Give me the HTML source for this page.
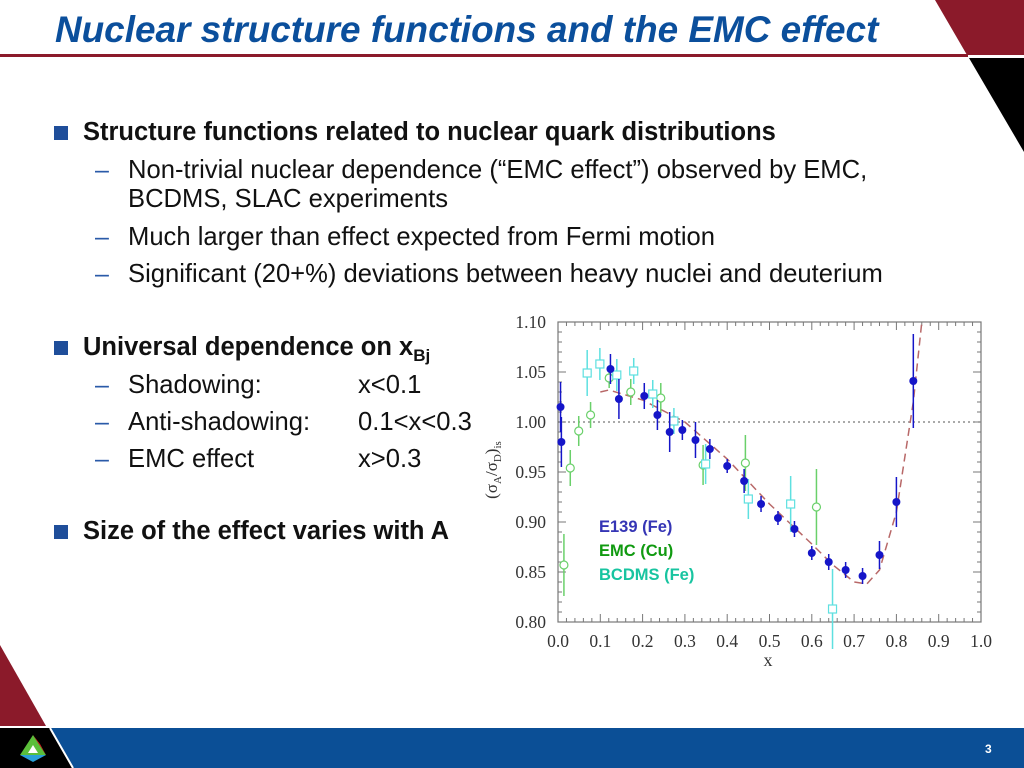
<!DOCTYPE html>
<html><head><meta charset="utf-8"><style>
body{margin:0;width:1024px;height:768px;overflow:hidden;background:#fff;font-family:"Liberation Sans",Arial,sans-serif;position:relative}
.t{position:absolute;white-space:nowrap;color:#111}
.b1{font-weight:bold;font-size:25.5px;left:83px}
.sq{position:absolute;left:54px;width:14px;height:14px;background:#1f4e9a}
.d{position:absolute;left:95px;color:#2a5aa8;font-size:25px}
.s{font-size:25.6px;left:128px}
</style></head><body>
<div class="t" style="left:55px;top:9px;font-size:36.9px;font-weight:bold;font-style:italic;color:#0b4f9c">Nuclear structure functions and the EMC effect</div>
<div style="position:absolute;left:0;top:54px;width:968px;height:3px;background:#8b1a2a"></div>
<svg style="position:absolute;left:0;top:0" width="1024" height="768">
<polygon points="935,0 1024,0 1024,55 967,55" fill="#8b1a2a"/>
<polygon points="969,58 1024,58 1024,152" fill="#000"/>
<polygon points="0,645 0,726 46,726" fill="#8b1a2a"/>
<rect x="0" y="728" width="1024" height="40" fill="#0b4f96"/>
<polygon points="0,728 50,728 73,768 0,768" fill="#000"/>
<line x1="50" y1="728" x2="73" y2="768" stroke="#fff" stroke-width="2"/>
<polygon points="33,735 20,755 46,755" fill="#5bbf3a"/>
<polygon points="33,735 46,755 40,744" fill="#e02020"/>
<polygon points="20,755 46,755 33,762" fill="#2aa0d8"/>
<polygon points="33,745 28,753 38,753" fill="#fff"/>
</svg>
<div class="t" style="left:985px;top:742px;color:#fff;font-size:12px;font-weight:bold">3</div>

<div class="sq" style="top:126px"></div>
<div class="t b1" style="top:118px">Structure functions related to nuclear quark distributions</div>
<div class="d" style="top:156px">–</div>
<div class="t s" style="top:156px">Non-trivial nuclear dependence (“EMC effect”) observed by EMC,</div>
<div class="t s" style="top:185px">BCDMS, SLAC experiments</div>
<div class="d" style="top:223px">–</div>
<div class="t s" style="top:223px">Much larger than effect expected from Fermi motion</div>
<div class="d" style="top:260px">–</div>
<div class="t s" style="top:260px">Significant (20+%) deviations between heavy nuclei and deuterium</div>

<div class="sq" style="top:341px"></div>
<div class="t b1" style="top:333px">Universal dependence on x<sub style="font-size:17px">Bj</sub></div>
<div class="d" style="top:371px">–</div>
<div class="t s" style="top:371px">Shadowing:</div>
<div class="t s" style="top:371px;left:358px">x&lt;0.1</div>
<div class="d" style="top:408px">–</div>
<div class="t s" style="top:408px">Anti-shadowing:</div>
<div class="t s" style="top:408px;left:358px">0.1&lt;x&lt;0.3</div>
<div class="d" style="top:445px">–</div>
<div class="t s" style="top:445px">EMC effect</div>
<div class="t s" style="top:445px;left:358px">x&gt;0.3</div>

<div class="sq" style="top:525px"></div>
<div class="t b1" style="top:517px">Size of the effect varies with A</div>

<svg id="chart" style="position:absolute;left:0;top:0" width="1024" height="768"></svg>
<script>
const e139X=[0.006,0.008,0.124,0.144,0.204,0.235,0.264,0.294,0.325,0.359,0.40,0.44,0.48,0.52,0.559,0.60,0.64,0.68,0.72,0.76,0.80,0.84];
const e139Y=[1.015,0.98,1.053,1.023,1.026,1.007,0.99,0.992,0.982,0.973,0.956,0.941,0.918,0.904,0.893,0.869,0.860,0.852,0.846,0.867,0.920,1.041];
const e139E=[0.025,0.025,0.015,0.02,0.013,0.015,0.02,0.01,0.018,0.01,0.007,0.012,0.008,0.007,0.008,0.007,0.008,0.008,0.008,0.014,0.025,0.047];
const emcX=[0.014,0.029,0.049,0.077,0.121,0.172,0.243,0.343,0.443,0.611];
const emcY=[0.857,0.954,0.991,1.007,1.044,1.030,1.024,0.957,0.959,0.915];
const emcE=[0.031,0.018,0.015,0.013,0.01,0.013,0.015,0.02,0.028,0.038];
const bcX=[0.069,0.099,0.139,0.179,0.224,0.274,0.349,0.45,0.55,0.649];
const bcY=[1.049,1.058,1.047,1.051,1.028,1.001,0.958,0.923,0.918,0.813];
const bcE=[0.023,0.016,0.016,0.013,0.014,0.013,0.02,0.02,0.028,0.04];
const fitX=[0.10,0.12,0.2,0.3,0.4,0.5,0.6,0.65,0.7,0.73,0.76,0.8,0.84,0.86];
const fitY=[1.030,1.032,1.022,1.0,0.963,0.918,0.878,0.857,0.840,0.838,0.852,0.91,1.02,1.10];
const xTicks=[0,0.1,0.2,0.3,0.4,0.5,0.6,0.7,0.8,0.9,1.0];
const yTicks=[0.80,0.85,0.90,0.95,1.00,1.05,1.10];
const L=558,R=981,T=322,B=622,y0=0.8,y1=1.1;
const sx=v=>L+(R-L)*v, sy=v=>B-(B-T)*(v-y0)/(y1-y0);
const svg=document.getElementById('chart');const NS='http://www.w3.org/2000/svg';
function mk(tag,a,txt){const e=document.createElementNS(NS,tag);for(const k in a)e.setAttribute(k,a[k]);if(txt!==undefined)e.textContent=txt;svg.appendChild(e);return e;}
let el=mk('rect',{x:L,y:T,width:R-L,height:B-T,fill:'none',stroke:'#777','stroke-width':1.2});


for(let i=0;i<=50;i++){const v=i/50,len=i%5==0?8:4;mk('line',{x1:sx(v),x2:sx(v),y1:B,y2:B-len,stroke:'#777'});mk('line',{x1:sx(v),x2:sx(v),y1:T,y2:T+len,stroke:'#777'});}
for(let i=0;i<=30;i++){const v=0.8+i*0.01,len=i%5==0?8:4;mk('line',{x1:L,x2:L+len,y1:sy(v),y2:sy(v),stroke:'#777'});mk('line',{x1:R,x2:R-len,y1:sy(v),y2:sy(v),stroke:'#777'});}
xTicks.forEach(v=>{el=mk('text',{x:sx(v),y:B+25,'text-anchor':'middle','font-family':'Liberation Serif,serif','font-size':17.5,fill:'#333'},v.toFixed(1));});
yTicks.forEach(v=>{el=mk('text',{x:546,y:sy(v)+6,'text-anchor':'end','font-family':'Liberation Serif,serif','font-size':17.5,fill:'#333'},v.toFixed(2));});
el=mk('text',{x:768,y:666,'text-anchor':'middle','font-family':'Liberation Serif,serif','font-size':18,fill:'#333'},'x');


el=mk('text',{x:0,y:0,transform:'translate(497,470) rotate(-90)','text-anchor':'middle','font-family':'Liberation Serif,serif','font-size':17,fill:'#333'});
el.innerHTML='(σ<tspan font-size="11" dy="4">A</tspan><tspan dy="-4">/σ</tspan><tspan font-size="11" dy="4">D</tspan><tspan dy="-4">)</tspan><tspan font-size="11" dy="4">is</tspan>';


el=mk('line',{x1:L,x2:R,y1:sy(1),y2:sy(1),stroke:'#555','stroke-dasharray':'2,3'});


let d='';fitX.forEach((v,i)=>{d+=(i?'L':'M')+sx(v).toFixed(1)+','+sy(fitY[i]).toFixed(1);});
el=mk('path',{d:d,fill:'none',stroke:'#b86868','stroke-width':1.5,'stroke-dasharray':'8,5'});


function series(X,Y,E,color,shape,name){X.forEach((v,i)=>{const cx=sx(v),cy=sy(Y[i]);
let e=mk('line',{x1:cx,x2:cx,y1:sy(Y[i]-E[i]),y2:sy(Y[i]+E[i]),stroke:color,'stroke-width':1.5});


if(shape=='dot')e=mk('circle',{cx:cx,cy:cy,r:4,fill:color});
else if(shape=='circle')e=mk('circle',{cx:cx,cy:cy,r:4,fill:'#fff',stroke:color,'stroke-width':1.2});
else e=mk('rect',{x:cx-4,y:cy-4,width:8,height:8,fill:'#fff',stroke:color,'stroke-width':1.2});

});}
series(emcX,emcY,emcE,'#6ad06a','circle','emc');
series(bcX,bcY,bcE,'#5ee0e0','square','bcdms');
series(e139X,e139Y,e139E,'#1515c8','dot','e139');
[['E139 (Fe)','#3535b5'],['EMC (Cu)','#109a10'],['BCDMS (Fe)','#18c4a0']].forEach((l,i)=>{el=mk('text',{x:599,y:532+i*24,'font-size':16.5,'font-weight':'bold',fill:l[1],'font-family':'Liberation Sans,sans-serif'},l[0]);});
</script>
</body></html>
